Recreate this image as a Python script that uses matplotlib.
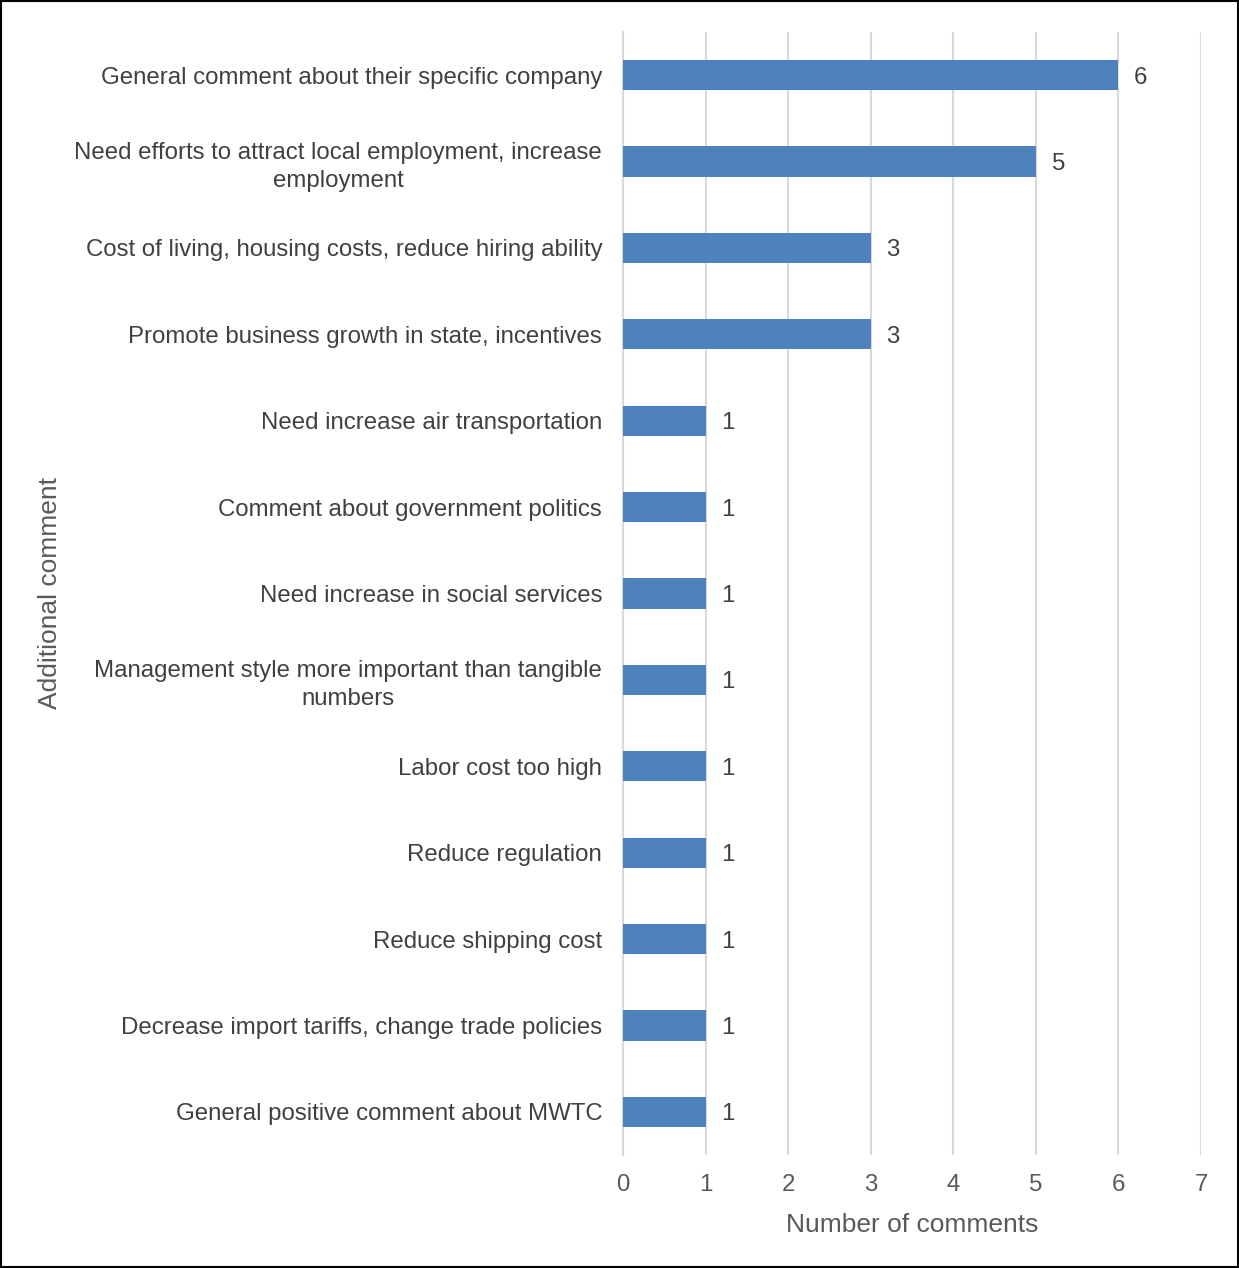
import matplotlib
matplotlib.use("Agg")
import matplotlib.pyplot as plt
from matplotlib.patches import Rectangle

categories = [
    "General comment about their specific company",
    "Need efforts to attract local employment, increase\nemployment",
    "Cost of living, housing costs, reduce hiring ability",
    "Promote business growth in state, incentives",
    "Need increase air transportation",
    "Comment about government politics",
    "Need increase in social services",
    "Management style more important than tangible\nnumbers",
    "Labor cost too high",
    "Reduce regulation",
    "Reduce shipping cost",
    "Decrease import tariffs, change trade policies",
    "General positive comment about MWTC",
]
values = [6, 5, 3, 3, 1, 1, 1, 1, 1, 1, 1, 1, 1]
xticks = [0, 1, 2, 3, 4, 5, 6, 7]

plt.rcParams['font.family'] = ['Liberation Sans', 'DejaVu Sans']
gray = '#595959'
dark = '#404040'
fs = 17.3

fig = plt.figure(figsize=(12.39, 12.68), dpi=100)
ax = fig.add_axes([623/1239, 1-1155/1268, (1201-623)/1239, (1155-32)/1268])

ypos = list(range(len(categories)))
ax.barh(ypos, values, height=0.35, color='#4F81BD', zorder=3)
for y, v in zip(ypos, values):
    ax.text(v + 0.19, y, str(v), va='center_baseline', ha='left', fontsize=fs, color=dark)

ax.set_xlim(0, 7)
ax.set_ylim(len(categories) - 0.5, -0.5)
ax.set_xticks(xticks)
ax.set_xticklabels([str(t) for t in xticks], fontsize=fs, color=gray)
ax.set_yticks(ypos)
ax.set_yticklabels(categories, fontsize=fs, color=dark)
for lab in ax.get_yticklabels():
    lab.set_multialignment('center')
    lab.set_linespacing(1.35)
ax.tick_params(axis='y', length=0, pad=15)
ax.tick_params(axis='x', length=0, pad=14)
ax.grid(axis='x', color='#D9D9D9', linewidth=1.5, zorder=0)
for s in ['top', 'right', 'bottom']:
    ax.spines[s].set_visible(False)
ax.spines['left'].set_color('#D9D9D9')
ax.spines['left'].set_linewidth(1.5)

ax.set_xlabel("Number of comments", fontsize=19, color=gray, labelpad=12)
fig.text(50/1239, 1-593/1268, "Additional comment", rotation=90, fontsize=19,
         color=gray, ha='center', va='center')

fig.patches.append(Rectangle((0.001, 0.001), 0.998, 0.998, transform=fig.transFigure,
                             fill=False, edgecolor='black', linewidth=1.5))

fig.savefig("out.png", dpi=100)
